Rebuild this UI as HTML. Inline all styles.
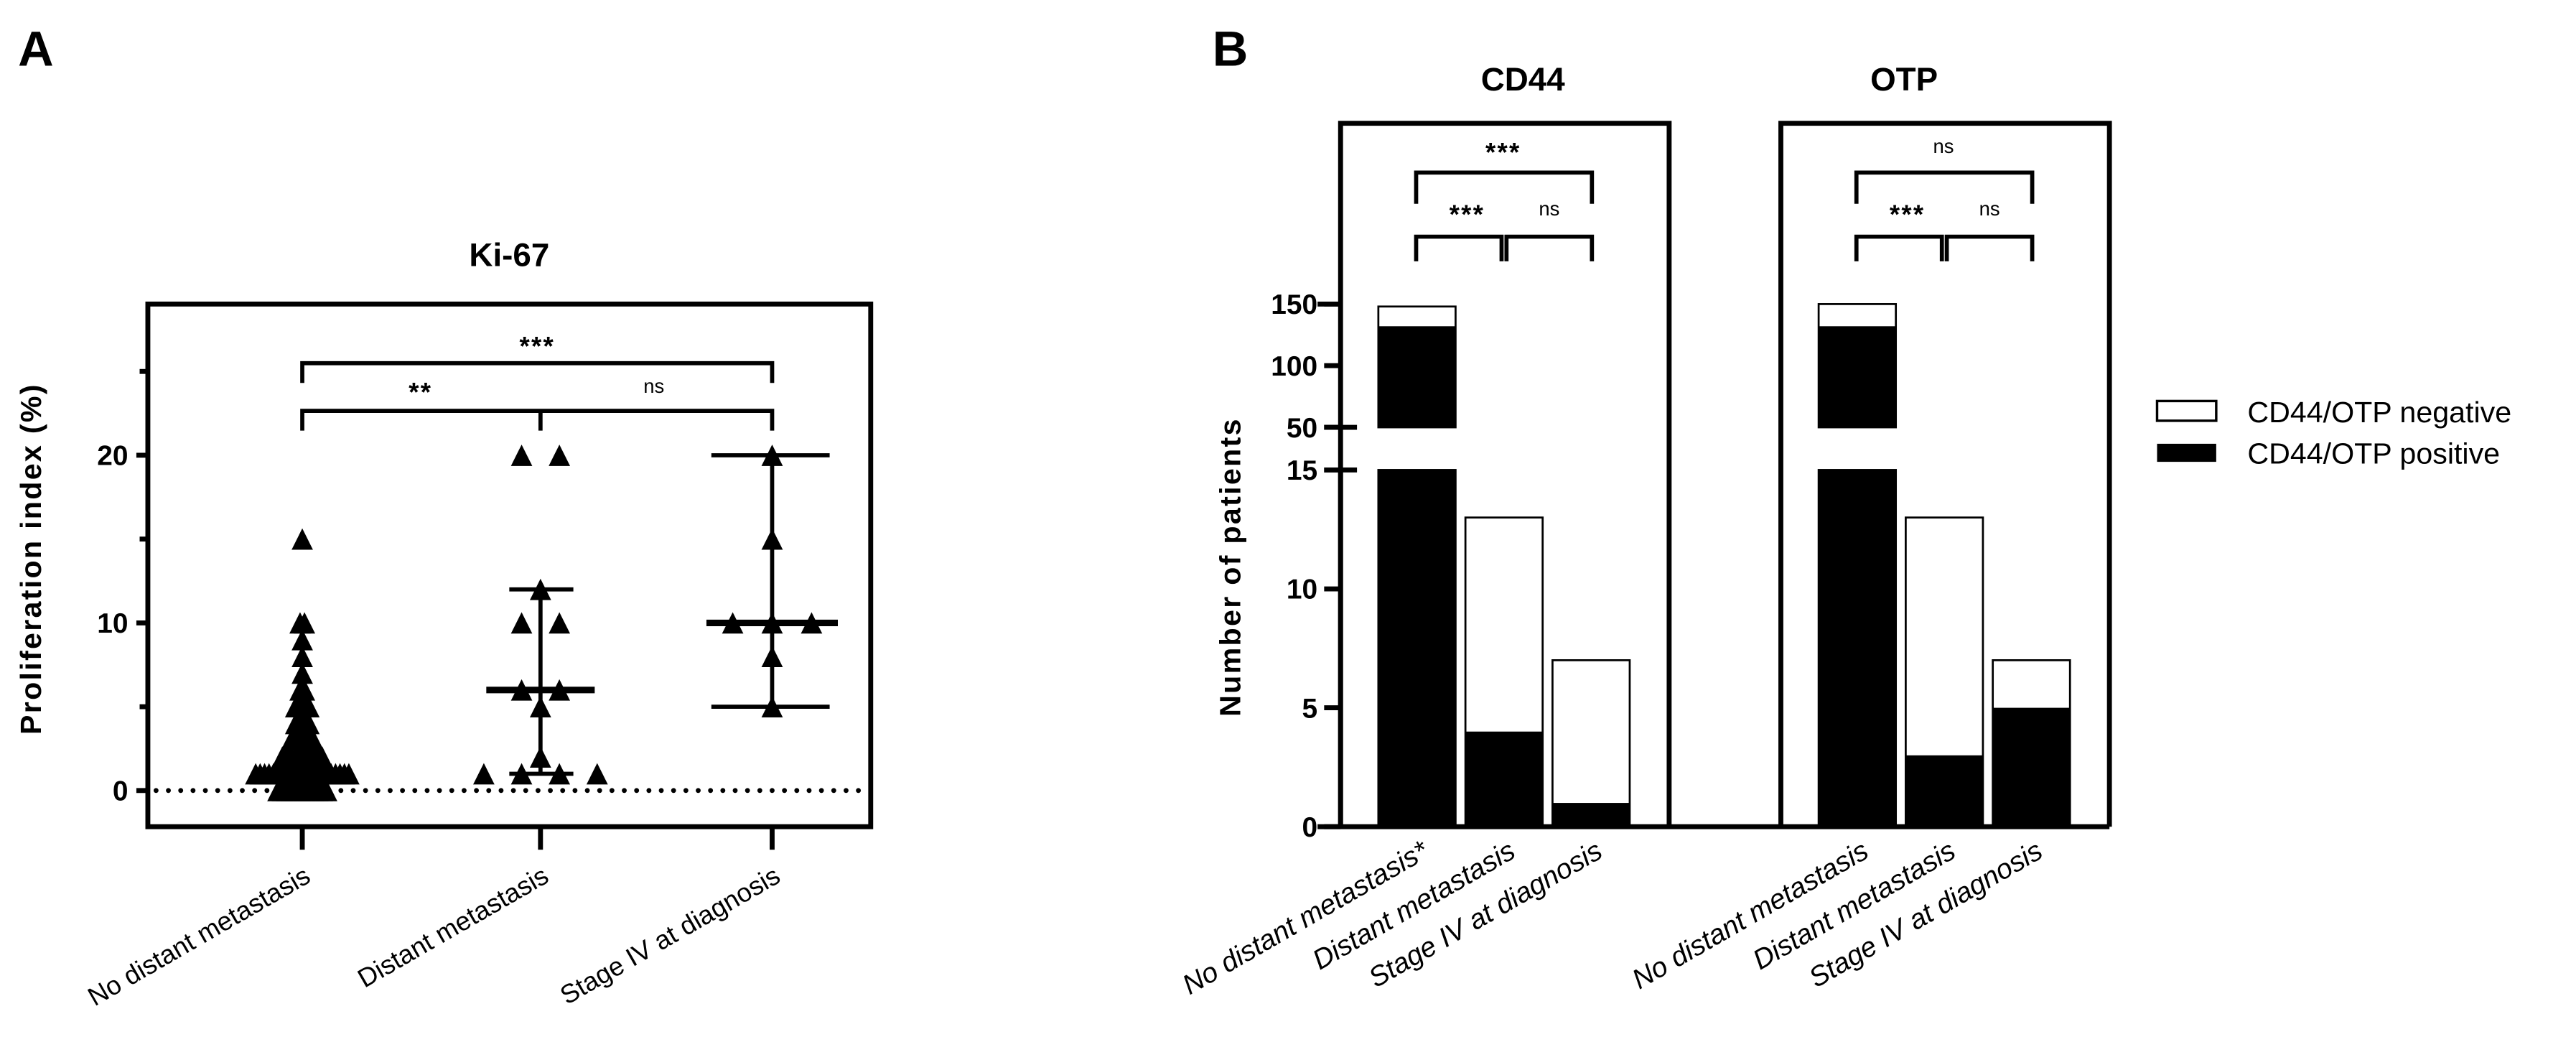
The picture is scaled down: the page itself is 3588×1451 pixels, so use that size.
<!DOCTYPE html>
<html><head><meta charset="utf-8"><style>
html,body{margin:0;padding:0;background:#fff;}
svg{display:block;}
text{font-family:"Liberation Sans",Arial,sans-serif;}
</style></head><body>
<svg id="fig" width="3588" height="1451" viewBox="0 0 1568 634" preserveAspectRatio="none" xmlns="http://www.w3.org/2000/svg">
<g id="panelA"></g>
<g id="panelB"></g>
</svg>
<script>
// ---------- Panel A data ----------
const aCategories = ["No distant metastasis","Distant metastasis","Stage IV at diagnosis"];
const aGroup1 = [0,0,0,0,0,0,0,0,0,0,0,0,1,1,1,1,1,1,1,1,1,1,1,1,1,1,1,1,1,1,1,1,1,1,2,2,2,2,2,2,2,2,2,2,3,3,3,3,3,3,4,4,4,4,5,5,5,5,6,6,7,8,9,10,10,15];
const aGroup2 = [20,20,12,10,10,6,6,5,2,1,1,1,1];
const aGroup3 = [20,15,10,10,10,8,5];
const aMedians = [1,6,10];
const aLow = [null,1,5];
const aHigh = [null,12,20];
const aTicks = [0,10,20];
const aMinorTicks = [5,15,25];
// ---------- Panel B data ----------
const bCategoriesCD44 = ["No distant metastasis*","Distant metastasis","Stage IV at diagnosis"];
const bCategoriesOTP = ["No distant metastasis","Distant metastasis","Stage IV at diagnosis"];
const cd44Positive = [132,4,1];
const cd44Total = [148,13,7];
const otpPositive = [132,3,5];
const otpTotal = [150,13,7];
const bLowerTicks = [0,5,10,15];
const bUpperTicks = [50,100,150];

const NS="http://www.w3.org/2000/svg";
function mk(parent,tag,attrs,txt){const e=document.createElementNS(NS,tag);for(const k in attrs)e.setAttribute(k,attrs[k]);if(txt!==undefined)e.textContent=txt;parent.appendChild(e);return e;}

// ===== Panel A =====
const A=document.getElementById('panelA');
const yA=v=>481-v*10.2;
const xA=[184,329,470];
let t;
t=mk(A,'text',{x:11,y:40,'font-size':30,'font-weight':'bold'},'A');

t=mk(A,'text',{x:310,y:162,'font-size':20,'font-weight':'bold','text-anchor':'middle'},'Ki-67');

let r=mk(A,'rect',{x:90,y:185,width:440,height:318,fill:'none',stroke:'#000','stroke-width':3});

aTicks.forEach(v=>{
  const l=mk(A,'line',{x1:83,x2:90,y1:yA(v),y2:yA(v),stroke:'#000','stroke-width':3});
  
  const tx=mk(A,'text',{x:78,y:yA(v)+6,'font-size':17,'font-weight':'bold','text-anchor':'end'},String(v));
  
});
aMinorTicks.forEach(v=>{
  const l=mk(A,'line',{x1:85,x2:90,y1:yA(v),y2:yA(v),stroke:'#000','stroke-width':3});
  
});
t=mk(A,'text',{x:25,y:340,'font-size':18,'font-weight':'bold','text-anchor':'middle','letter-spacing':'1',transform:'rotate(-90 25 340)'},'Proliferation index (%)');

let dl=mk(A,'line',{x1:95,x2:530,y1:yA(0),y2:yA(0),stroke:'#000','stroke-width':3,'stroke-dasharray':'0 7.5','stroke-linecap':'round'});

aCategories.forEach((c,i)=>{
  const l=mk(A,'line',{x1:xA[i],x2:xA[i],y1:503,y2:517,stroke:'#000','stroke-width':3});
  
  const tx=mk(A,'text',{x:xA[i]+6,y:536,'font-size':16,'text-anchor':'end',transform:`rotate(-30 ${xA[i]+6} 536)`},c);
  
});
function swarm(vals,cx,sp){
  const counts={},idx={};vals.forEach(v=>counts[v]=(counts[v]||0)+1);
  vals.forEach(v=>{idx[v]=(idx[v]||0);const n=counts[v];const off=(idx[v]-(n-1)/2)*sp;idx[v]++;
    const x=cx+off,y=yA(v);
    const p=mk(A,'polygon',{points:`${x-6.5},${y+6.5} ${x+6.5},${y+6.5} ${x},${y-6.5}`,fill:'#000'});
    
  });
}
[[aGroup1,2.7],[aGroup2,23],[aGroup3,24]].forEach((g,i)=>swarm(g[0],xA[i],g[1]));
aMedians.forEach((m,i)=>{
  const w=i===0?26:(i===1?33:40);
  const ml=mk(A,'line',{x1:xA[i]-w,x2:xA[i]+w,y1:yA(m),y2:yA(m),stroke:'#000','stroke-width':4});
  
  if(aLow[i]!==null){
    const v=mk(A,'line',{x1:xA[i],x2:xA[i],y1:yA(aLow[i]),y2:yA(aHigh[i]),stroke:'#000','stroke-width':2.5});
    
    const cw=i===1?[-19,20]:[-37,35];
    [aLow[i],aHigh[i]].forEach(e=>{
      const c=mk(A,'line',{x1:xA[i]+cw[0],x2:xA[i]+cw[1],y1:yA(e),y2:yA(e),stroke:'#000','stroke-width':2.5});
      
    });
  }
});
function bracket(P,x1,x2,y,drop,mid){
  let d=`M${x1},${y+drop} V${y} H${x2} V${y+drop}`;
  if(mid!==undefined)d+=` M${mid},${y} V${y+drop}`;
  const p=mk(P,'path',{d:d,fill:'none',stroke:'#000','stroke-width':2.5});
  
}
function sig(P,x,y,s,big){
  const tx=mk(P,'text',{x:x,y:y,'font-size':big?16:12,'font-weight':big?'bold':'normal','text-anchor':'middle','letter-spacing':big?'1':'0'},s);
  
}
bracket(A,184,470,221,12);
bracket(A,184,470,250,12,329);
sig(A,327,216,'***',true);sig(A,256,244,'**',true);sig(A,398,239,'ns',false);

// ===== Panel B =====
const B=document.getElementById('panelB');
const yLow=v=>503-v*14.47;
const yUp=v=>260-(v-50)*0.75;
t=mk(B,'text',{x:738,y:40,'font-size':30,'font-weight':'bold'},'B');

t=mk(B,'text',{x:927,y:55,'font-size':20,'font-weight':'bold','text-anchor':'middle'},'CD44');

t=mk(B,'text',{x:1159,y:55,'font-size':20,'font-weight':'bold','text-anchor':'middle'},'OTP');

let f=mk(B,'path',{d:'M816,503 V75 H1016 V503',fill:'none',stroke:'#000','stroke-width':3});

f=mk(B,'path',{d:'M1084,503 V75 H1284 V503',fill:'none',stroke:'#000','stroke-width':3});

f=mk(B,'line',{x1:802,x2:1284,y1:503,y2:503,stroke:'#000','stroke-width':3});

f=mk(B,'path',{d:`M802,${yUp(150)} H816 M816,${yLow(15)} V503`,fill:'none',stroke:'#000','stroke-width':3});

f=mk(B,'path',{d:`M806,${yUp(50)} H826 M806,${yLow(15)} H826`,fill:'none',stroke:'#000','stroke-width':3});

bLowerTicks.forEach(v=>{
  const l=mk(B,'line',{x1:806,x2:816,y1:yLow(v),y2:yLow(v),stroke:'#000','stroke-width':3});
  
  const tx=mk(B,'text',{x:802,y:yLow(v)+6,'font-size':17,'font-weight':'bold','text-anchor':'end'},String(v));
  
});
bUpperTicks.forEach(v=>{
  const l=mk(B,'line',{x1:806,x2:816,y1:yUp(v),y2:yUp(v),stroke:'#000','stroke-width':3});
  
  const tx=mk(B,'text',{x:802,y:yUp(v)+6,'font-size':17,'font-weight':'bold','text-anchor':'end'},String(v));
  
});
t=mk(B,'text',{x:755,y:345,'font-size':18,'font-weight':'bold','text-anchor':'middle','letter-spacing':'1',transform:'rotate(-90 755 345)'},'Number of patients');

function yB(v){return v<=15?yLow(v):(v<50?yLow(15):yUp(v));}
function drawBars(starts,pos,tot,cats,prefix){
  cats.forEach((c,i)=>{
    const x=starts[i],w=47;
    const segs=tot[i]>15?[[0,15],[50,tot[i]]]:[[0,tot[i]]];
    segs.forEach(s=>{
      const top=yB(s[1]),bot=yB(s[0]);
      const wr=mk(B,'rect',{x:x,y:top,width:w,height:bot-top,fill:'#fff',stroke:'#000','stroke-width':1.2});
      
      const pv=Math.min(pos[i],s[1]);
      if(pv>s[0]){const pt=yB(pv);
        const br=mk(B,'rect',{x:x,y:pt,width:w,height:bot-pt,fill:'#000'});
        }
    });
    const lx=x+w/2+8;
    const tx=mk(B,'text',{x:lx,y:521,'font-size':17,'font-style':'italic','text-anchor':'end',transform:`rotate(-30 ${lx} 521)`},c);
    
  });
}
drawBars([839,892,945],cd44Positive,cd44Total,bCategoriesCD44,'cd44');
drawBars([1107,1160,1213],otpPositive,otpTotal,bCategoriesOTP,'otp');
bracket(B,862,969,105,19);
bracket(B,862,914,144,15);bracket(B,917,969,144,15);
sig(B,915,98,'***',true);sig(B,893,136,'***',true);sig(B,943,131,'ns',false);
bracket(B,1130,1237,105,19);
bracket(B,1130,1182,144,15);bracket(B,1185,1237,144,15);
sig(B,1183,93,'ns',false);sig(B,1161,136,'***',true);sig(B,1211,131,'ns',false);
let lg=mk(B,'rect',{x:1313,y:244,width:36,height:12,fill:'#fff',stroke:'#000','stroke-width':1.5});

lg=mk(B,'text',{x:1368,y:257,'font-size':18},'CD44/OTP negative');

lg=mk(B,'rect',{x:1313,y:270,width:36,height:11,fill:'#000'});

lg=mk(B,'text',{x:1368,y:282,'font-size':18},'CD44/OTP positive');

</script>
</body></html>
